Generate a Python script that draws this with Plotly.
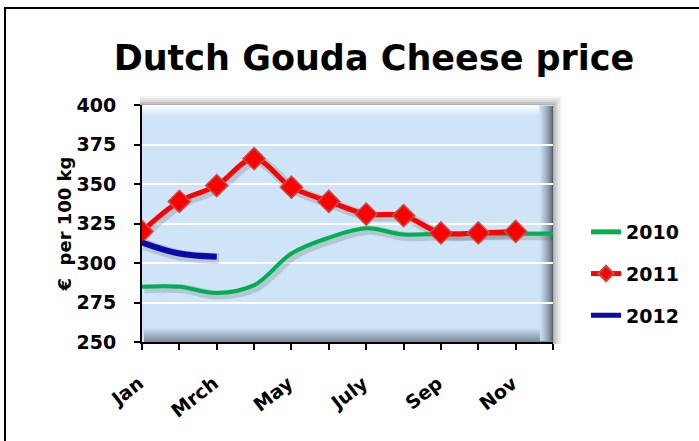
import plotly.graph_objects as go

months = ["Jan", "Feb", "Mrch", "Apr", "May", "Jun", "July", "Aug", "Sep", "Oct", "Nov", "Dec"]
tick_labels = ["Jan", "", "Mrch", "", "May", "", "July", "", "Sep", "", "Nov", ""]
price_2010 = [285, 285, 281, 286, 306, 316, 322, 318, 318.5, 318.5, 318.5, 318.5]
price_2011 = [320, 339, 349, 366, 348, 339, 331, 330, 319, 319, 320]
price_2012 = [313, 306, 304]

x_idx = list(range(len(months)))

# plot area in pixels
L, R, T, B = 142, 553, 105, 342
W, H = 699, 441


def px(x):
    return (x - L) / (R - L)


def py(y):
    return (B - y) / (B - T)


def mix(c1, c2, t):
    a = [int(c1[i:i + 2], 16) for i in (1, 3, 5)]
    b = [int(c2[i:i + 2], 16) for i in (1, 3, 5)]
    return "#" + "".join(f"{round(a[k] + (b[k] - a[k]) * t):02x}" for k in range(3))


fig = go.Figure()

series = [
    ("2010", price_2010, "#00b050", 4, False),
    ("2011", price_2011, "#ff0000", 5, True),
    ("2012", price_2012, "#0a0aa6", 6, False),
]

# soft drop shadows (decoration)
for name, vals, col, w, mk in series:
    fig.add_trace(go.Scatter(
        x=[i + 0.06 for i in x_idx[:len(vals)]], y=[v - 1.3 for v in vals],
        mode="lines", showlegend=False, hoverinfo="skip",
        line=dict(color="rgba(40,40,40,0.16)", width=w + 5, shape="spline", smoothing=1.0)))

for g, (name, vals, col, w, mk) in enumerate(series):
    fig.add_trace(go.Scatter(
        x=x_idx[:len(vals)], y=vals, name=name,
        mode="lines+markers" if mk else "lines",
        line=dict(color=col, width=w, shape="spline", smoothing=1.0),
        marker=dict(symbol="diamond", size=17, color=col,
                    line=dict(color="#c0504d", width=1.5)),
        legendgroup=str(g)))

shapes = []
base = "#d0e4f8"
# outer shadow
for i, op in enumerate([0.05, 0.07, 0.09, 0.12, 0.15]):
    d = 9 - i * 2
    shapes.append(dict(type="rect", xref="paper", yref="paper", layer="below",
                       x0=px(L - 2), x1=px(R + d), y0=py(B + 2), y1=py(T - d),
                       line=dict(width=0), fillcolor=f"rgba(60,60,60,{op})"))
# plot fill
shapes.append(dict(type="rect", xref="paper", yref="paper", layer="below",
                   x0=0, x1=1, y0=0, y1=1, line=dict(width=0), fillcolor=base))
# top highlight
n = 10
for i in range(n):
    shapes.append(dict(type="rect", xref="paper", yref="paper", layer="below",
                       x0=0, x1=px(R - 14), y0=py(T + i + 1), y1=py(T + i),
                       line=dict(width=0), fillcolor=mix("#ffffff", base, i / n)))
# bottom bevel
n = 14
for i in range(n):
    shapes.append(dict(type="rect", xref="paper", yref="paper", layer="below",
                       x0=px(L + 2), x1=1, y0=py(B - i), y1=py(B - i - 1),
                       line=dict(width=0), fillcolor=mix("#7c8ca0", base, i / n)))
# right bevel
n = 13
for i in range(n):
    shapes.append(dict(type="rect", xref="paper", yref="paper", layer="below",
                       x0=px(R - i - 1), x1=px(R - i), y0=py(B - 1), y1=py(T + 1),
                       line=dict(width=0), fillcolor=mix("#56606e", base, (i / n) ** 0.7)))
# outer frame
shapes.append(dict(type="rect", xref="paper", yref="paper", layer="above",
                   x0=px(5), x1=px(W + 10), y0=py(H + 10), y1=py(8),
                   line=dict(color="black", width=2), fillcolor="rgba(0,0,0,0)"))

font = "DejaVu Sans"

fig.update_layout(
    width=W, height=H,
    margin=dict(l=L, r=W - R, t=T, b=H - B),
    paper_bgcolor="white", plot_bgcolor="rgba(0,0,0,0)",
    title=dict(text="<b>Dutch Gouda Cheese price</b>", x=374 / W, xanchor="center",
               y=1 - 58 / H, yanchor="middle",
               font=dict(family=font, size=35, color="black")),
    xaxis=dict(range=[0, 11], tickvals=x_idx,
               ticktext=[f"<b>{t}</b>" if t else "" for t in tick_labels],
               tickangle=-38, ticks="outside", ticklen=6, tickwidth=2, tickcolor="black",
               showline=True, linecolor="black", linewidth=2, showgrid=False, zeroline=False,
               tickfont=dict(family=font, size=19, color="black"),
               ticklabelstandoff=15, ticklabelshift=-3),
    yaxis=dict(range=[250, 400], tickvals=[250, 275, 300, 325, 350, 375, 400],
               ticktext=[f"<b>{v}</b>" for v in [250, 275, 300, 325, 350, 375, 400]],
               ticks="outside", ticklen=6, tickwidth=2, tickcolor="black",
               showline=True, linecolor="black", linewidth=2,
               showgrid=True, gridcolor="white", gridwidth=2, zeroline=False,
               tickfont=dict(family=font, size=19, color="black"), ticklabelstandoff=14,
               title=dict(text="<b>€  per 100 kg</b>", standoff=0,
                          font=dict(family=font, size=18, color="black"))),
    legend=dict(x=px(586), y=py(213), xanchor="left", yanchor="top",
                font=dict(family=font, size=19, color="black", weight="bold"),
                itemsizing="constant",
                tracegroupgap=14, traceorder="grouped", bgcolor="rgba(0,0,0,0)"),
    shapes=shapes,
)

fig.write_html("out.html", config={"displayModeBar": False},
               post_script="document.body.style.margin='0';document.body.style.padding='0';")
